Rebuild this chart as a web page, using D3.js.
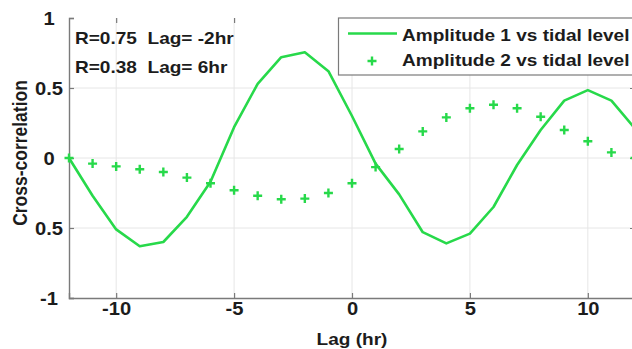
<!DOCTYPE html>
<html>
<head>
<meta charset="utf-8">
<script src="https://cdn.jsdelivr.net/npm/d3@7"></script>
<style>
  body { margin: 0; background: #fff; }
  svg { display: block; font-family: 'Liberation Sans', Arial, sans-serif; font-weight: bold; }
  text { white-space: pre; }
</style>
</head>
<body>
<div id="chart"></div>
<script>
// lags (hr)
const lags = [-12, -11, -10, -9, -8, -7, -6, -5, -4, -3, -2, -1, 0, 1, 2, 3, 4, 5, 6, 7, 8, 9, 10, 11, 12];
// Amplitude 1 vs tidal level (solid line)
const amp1 = [0, -0.27, -0.51, -0.63, -0.6, -0.42, -0.17, 0.22, 0.53, 0.72, 0.755, 0.62, 0.3, -0.04, -0.26, -0.53, -0.61, -0.54, -0.35, -0.05, 0.2, 0.41, 0.485, 0.41, 0.21];
// Amplitude 2 vs tidal level (plus markers)
const amp2 = [0, -0.04, -0.06, -0.08, -0.1, -0.14, -0.18, -0.23, -0.27, -0.295, -0.29, -0.25, -0.18, -0.065, 0.064, 0.19, 0.29, 0.355, 0.38, 0.355, 0.295, 0.2, 0.12, 0.04, 0];

const xTicks = [-10, -5, 0, 5, 10];
const xTickLabels = ['-10', '-5', '0', '5', '10'];
const yTicks = [-1, -0.5, 0, 0.5, 1];
const yTickLabels = ['-1', '0.5', '0', '0.5', '1'];
const seriesNames = ['Amplitude 1 vs tidal level', 'Amplitude 2 vs tidal level'];
const notes = ['R=0.75  Lag= -2hr', 'R=0.38  Lag= 6hr'];

const width = 632, height = 349;
const green = '#27d94a';
const axisGray = '#7a7a7a';
const ink = '#1c1c1c';

const x = d3.scaleLinear().domain([-12, 12]).range([69, 635]);
const y = d3.scaleLinear().domain([-1, 1]).range([298, 18]);

const svg = d3.select('#chart')
  .append('svg')
  .attr('width', width)
  .attr('height', height);

// grid
svg.append('g')
  .selectAll('line')
  .data(xTicks)
  .join('line')
  .attr('x1', d => x(d)).attr('x2', d => x(d))
  .attr('y1', y(1)).attr('y2', y(-1))
  .attr('stroke', '#e6e6e6').attr('stroke-width', 1);

svg.append('g')
  .selectAll('line')
  .data(yTicks.filter(d => Math.abs(d) < 1))
  .join('line')
  .attr('x1', x(-12)).attr('x2', x(12))
  .attr('y1', d => y(d)).attr('y2', d => y(d))
  .attr('stroke', '#e6e6e6').attr('stroke-width', 1);

// axes
const xAxis = svg.append('g')
  .attr('transform', `translate(0, ${y(-1)})`)
  .call(d3.axisBottom(x).tickValues(xTicks).tickSize(-5).tickPadding(4)
    .tickFormat((d, i) => xTickLabels[i]));

const yAxis = svg.append('g')
  .attr('transform', `translate(${x(-12)}, 0)`)
  .call(d3.axisLeft(y).tickValues(yTicks).tickSize(-5).tickPadding(0)
    .tickFormat((d, i) => yTickLabels[i]));

// top and right ticks (no frame line)
svg.append('g')
  .attr('transform', `translate(0, ${y(1)})`)
  .call(d3.axisTop(x).tickValues(xTicks).tickSize(-5).tickFormat(''))
  .call(g => g.select('.domain').remove());

svg.append('g')
  .attr('transform', `translate(${x(12)}, 0)`)
  .call(d3.axisRight(y).tickValues(yTicks).tickSize(-5).tickFormat(''))
  .call(g => g.select('.domain').remove());

svg.selectAll('.domain').attr('stroke', axisGray).attr('stroke-width', 1.4);
svg.selectAll('.tick line').attr('stroke', axisGray).attr('stroke-width', 1.2);

xAxis.selectAll('text')
  .attr('fill', ink)
  .style('font-size', '18px')
  .style('font-family', "'Liberation Sans', Arial, sans-serif")
  .style('font-weight', 'bold');

yAxis.selectAll('text')
  .attr('x', -20)
  .attr('text-anchor', 'middle')
  .attr('dy', '0.36em')
  .attr('fill', ink)
  .style('font-size', '18px')
  .style('font-family', "'Liberation Sans', Arial, sans-serif")
  .style('font-weight', 'bold');

// series 1: line
const line = d3.line()
  .x((d, i) => x(lags[i]))
  .y(d => y(d));

svg.append('path')
  .datum(amp1)
  .attr('d', line)
  .attr('fill', 'none')
  .attr('stroke', green)
  .attr('stroke-width', 2.6)
  .attr('stroke-linejoin', 'round');

// series 2: plus markers
const plus = (cx, cy, r) => `M${cx - r},${cy}H${cx + r}M${cx},${cy - r}V${cy + r}`;

svg.append('g')
  .selectAll('path')
  .data(amp2)
  .join('path')
  .attr('d', (d, i) => plus(x(lags[i]), y(d), 4.5))
  .attr('stroke', green)
  .attr('stroke-width', 2.4)
  .attr('fill', 'none');

// annotations
svg.append('g')
  .selectAll('text')
  .data(notes)
  .join('text')
  .attr('class', 'wide')
  .attr('x', 75)
  .attr('y', (d, i) => 44 + i * 28.7)
  .attr('fill', ink)
  .style('font-size', '17px')
  .text(d => d);

// legend
const legend = svg.append('g');

legend.append('rect')
  .attr('x', 338.5).attr('y', 18)
  .attr('width', 320).attr('height', 57)
  .attr('fill', '#fff')
  .attr('stroke', axisGray)
  .attr('stroke-width', 1.2);

legend.append('line')
  .attr('x1', 348).attr('x2', 397)
  .attr('y1', 33.5).attr('y2', 33.5)
  .attr('stroke', green).attr('stroke-width', 2.6);

legend.append('path')
  .attr('d', plus(372, 61, 4.5))
  .attr('stroke', green).attr('stroke-width', 2.4);

legend.selectAll('text')
  .data(seriesNames)
  .join('text')
  .attr('class', 'wide')
  .attr('x', 402)
  .attr('y', (d, i) => 41 + i * 25)
  .attr('fill', ink)
  .style('font-size', '17px')
  .text(d => d);

// axis labels
svg.append('text')
  .attr('class', 'wide')
  .attr('x', x(0))
  .attr('y', 345)
  .attr('text-anchor', 'middle')
  .attr('fill', ink)
  .style('font-size', '17px')
  .text('Lag (hr)');

svg.append('text')
  .attr('transform', `translate(27, 153) rotate(-90) scale(1, 1.12)`)
  .attr('text-anchor', 'middle')
  .attr('fill', ink)
  .style('font-size', '17.5px')
  .text('Cross-correlation');

// the source picture is a little wider than tall; stretch the horizontal texts to match
svg.selectAll('text.wide, .tick text').each(function () {
  const w = this.getComputedTextLength();
  if (w > 0) {
    d3.select(this)
      .attr('textLength', w * 1.12)
      .attr('lengthAdjust', 'spacingAndGlyphs');
  }
});
</script>
</body>
</html>
